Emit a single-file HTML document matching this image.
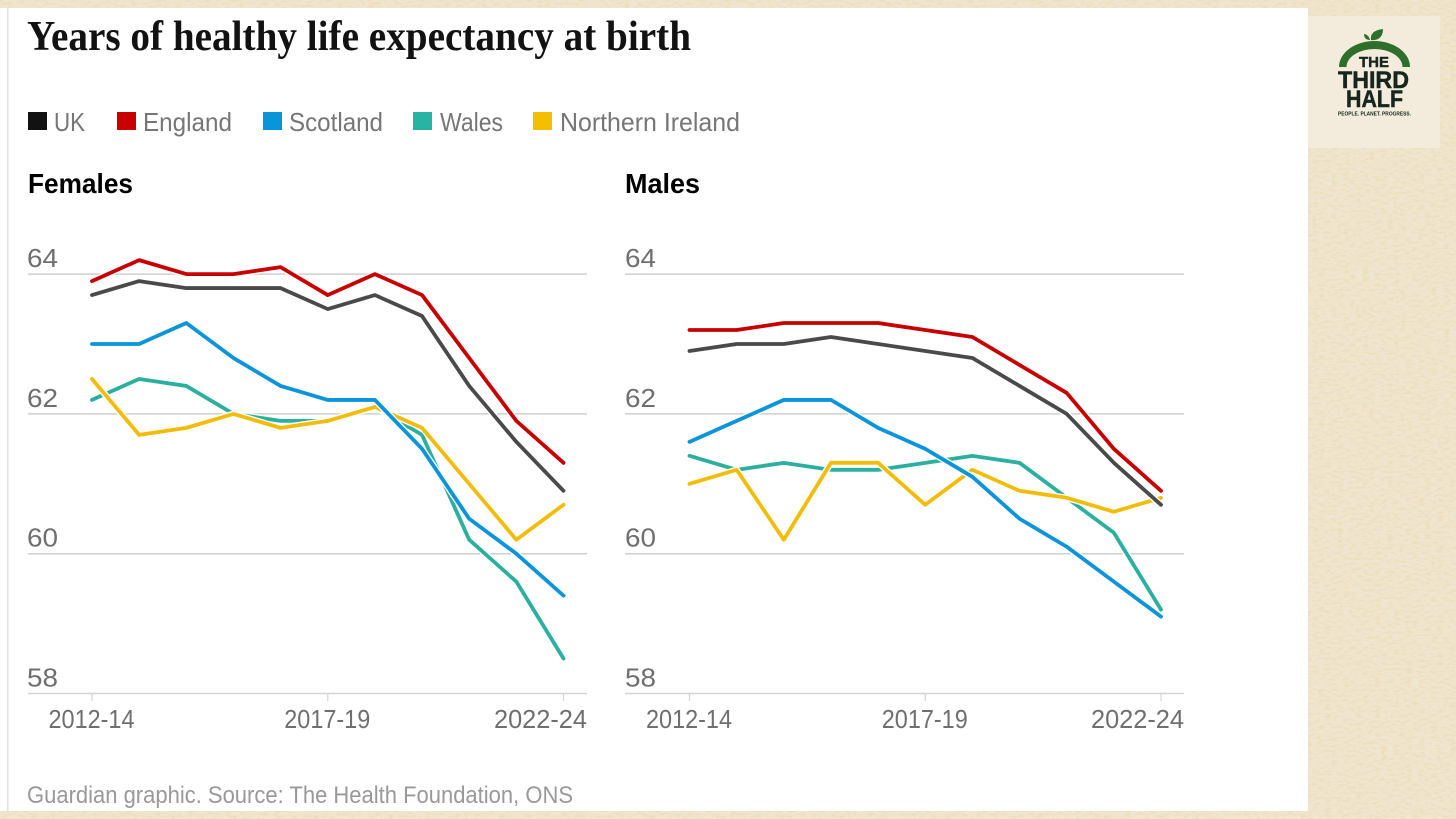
<!DOCTYPE html>
<html lang="en">
<head>
<meta charset="utf-8">
<title>Years of healthy life expectancy at birth</title>
<style>
html,body{margin:0;padding:0;background:#fff;width:1456px;height:819px;overflow:hidden}
svg{display:block}
text{font-family:"Liberation Sans",sans-serif}
.legend-label{font-size:26px;fill:#767676}
.tick-label{font-size:26px;fill:#6f6f6f}
.panel-title{font-size:28px;font-weight:bold;fill:#000}
</style>
</head>
<body>
<svg id="root" xmlns="http://www.w3.org/2000/svg" width="1456" height="819" viewBox="0 0 1456 819">
  <defs>
    <filter id="paper" x="0" y="0" width="100%" height="100%">
      <feTurbulence type="fractalNoise" baseFrequency="0.16 0.38" numOctaves="4" seed="11"/>
      <feColorMatrix type="matrix" values="0 0 0 0 0.84  0 0 0 0 0.72  0 0 0 0 0.5  2.6 0 0 0 -1.05"/>
    </filter>
  </defs>
  <rect width="1456" height="819" fill="#f0e6d0"/>
  <rect width="1456" height="819" filter="url(#paper)"/>

  <rect x="0" y="8" width="1308" height="803" fill="#ffffff"/>
  <rect x="7" y="8" width="1.5" height="803" fill="#e2e2e2"/>

  <text x="27" y="50" textLength="664" lengthAdjust="spacingAndGlyphs" style="font-family:'Liberation Serif',serif;font-size:42px;font-weight:bold;fill:#121212">Years of healthy life expectancy at birth</text>

  <g>
    <rect x="28" y="112" width="19" height="18" fill="#121212"/>
    <text class="legend-label" x="54" y="131" textLength="31" lengthAdjust="spacingAndGlyphs">UK</text>
    <rect x="117" y="112" width="19" height="18" fill="#c70000"/>
    <text class="legend-label" x="143" y="131" textLength="89" lengthAdjust="spacingAndGlyphs">England</text>
    <rect x="263" y="112" width="19" height="18" fill="#0a94da"/>
    <text class="legend-label" x="289" y="131" textLength="94" lengthAdjust="spacingAndGlyphs">Scotland</text>
    <rect x="413" y="112" width="19" height="18" fill="#27b4a4"/>
    <text class="legend-label" x="440" y="131" textLength="63" lengthAdjust="spacingAndGlyphs">Wales</text>
    <rect x="533" y="112" width="19" height="18" fill="#f5be00"/>
    <text class="legend-label" x="560" y="131" textLength="180" lengthAdjust="spacingAndGlyphs">Northern Ireland</text>
  </g>

  <text class="panel-title" x="28" y="193" textLength="105" lengthAdjust="spacingAndGlyphs">Females</text>
  <text class="panel-title" x="625" y="193" textLength="75" lengthAdjust="spacingAndGlyphs">Males</text>

  <g id="females-chart"></g>
  <g id="males-chart"></g>

  <text x="27" y="803" textLength="546" lengthAdjust="spacingAndGlyphs" style="font-size:24px;fill:#999999">Guardian graphic. Source: The Health Foundation, ONS</text>

  <g>
    <rect x="1308" y="16" width="132" height="132" fill="#f3ecdc"/>
    <path d="M1339 67 A35.500 26 0 0 1 1410 67 L1402.500 67 A28 18 0 0 0 1346.500 67 Z" fill="#2f6f2c"/>
    <path d="M1371 40 C1370 33 1375 30 1383 29 C1383 36 1379 41 1371 40 Z" fill="#2f6f2c"/>
    <path d="M1370 40 C1369 36 1367 34.500 1364 34 C1364 38 1366 40 1370 40 Z" fill="#2f6f2c"/>
    <text x="1359" y="67" textLength="30" lengthAdjust="spacingAndGlyphs" style="font-size:14.500px;font-weight:bold;fill:#16261f;stroke:#16261f;stroke-width:0.4">THE</text>
    <text x="1338" y="88" textLength="71" lengthAdjust="spacingAndGlyphs" style="font-size:24px;font-weight:bold;fill:#16261f;stroke:#16261f;stroke-width:0.5">THIRD</text>
    <text x="1346" y="107" textLength="57" lengthAdjust="spacingAndGlyphs" style="font-size:24px;font-weight:bold;fill:#16261f;stroke:#16261f;stroke-width:0.5">HALF</text>
    <text x="1338" y="115.500" textLength="73" lengthAdjust="spacingAndGlyphs" style="font-size:5.500px;font-weight:bold;fill:#16261f">PEOPLE. PLANET. PROGRESS.</text>
  </g>
</svg>

<script>
const categories = ['2012-14','2013-15','2014-16','2015-17','2016-18','2017-19','2018-20','2019-21','2020-22','2021-23','2022-24'];
const xTickLabels = ['2012-14','2017-19','2022-24'];
const yTickValues = [58,60,62,64];

const femalesWales = [62.2,62.5,62.4,62.0,61.9,61.9,62.1,61.7,60.2,59.6,58.5];
const femalesNorthernIreland = [62.5,61.7,61.8,62.0,61.8,61.9,62.1,61.8,61.0,60.2,60.7];
const femalesScotland = [63.0,63.0,63.3,62.8,62.4,62.2,62.2,61.5,60.5,60.0,59.4];
const femalesUK = [63.7,63.9,63.8,63.8,63.8,63.5,63.7,63.4,62.4,61.6,60.9];
const femalesEngland = [63.9,64.2,64.0,64.0,64.1,63.7,64.0,63.7,62.8,61.9,61.3];

const malesWales = [61.4,61.2,61.3,61.2,61.2,61.3,61.4,61.3,60.8,60.3,59.2];
const malesNorthernIreland = [61.0,61.2,60.2,61.3,61.3,60.7,61.2,60.9,60.8,60.6,60.8];
const malesScotland = [61.6,61.9,62.2,62.2,61.8,61.5,61.1,60.5,60.1,59.6,59.1];
const malesUK = [62.9,63.0,63.0,63.1,63.0,62.9,62.8,62.4,62.0,61.3,60.7];
const malesEngland = [63.2,63.2,63.3,63.3,63.3,63.2,63.1,62.7,62.3,61.5,60.9];

const seriesNames = ['wales','northern-ireland','scotland','uk','england'];
const seriesColors = ['#2bb0a0','#f2bd0a','#0a94da','#4a4a4a','#c70000'];

const SVG_NS = 'http://www.w3.org/2000/svg';

function yScale(v) {
  return 693.5 - (v - 58) * 69.9;
}

function makeXScale(left) {
  return function (i) {
    return left + i * 47.15;
  };
}

function drawPanel(groupId, panelName, plotLeft, firstX, yLabelX, seriesList) {
  const group = document.getElementById(groupId);
  const xScale = makeXScale(firstX);
  const plotRight = plotLeft + 559;

  yTickValues.forEach(function (v) {
    const y = yScale(v);
    const line = document.createElementNS(SVG_NS, 'line');
    line.setAttribute('x1', plotLeft);
    line.setAttribute('x2', plotRight);
    line.setAttribute('y1', y);
    line.setAttribute('y2', y);
    line.setAttribute('stroke', v === 58 ? '#d4d4d4' : '#cfcfcf');
    line.setAttribute('stroke-width', '1.500');
    
    
    group.appendChild(line);

    const label = document.createElementNS(SVG_NS, 'text');
    label.setAttribute('x', yLabelX);
    label.setAttribute('y', y - 7);
    label.setAttribute('class', 'tick-label');
    label.setAttribute('textLength', '31');
    label.setAttribute('lengthAdjust', 'spacingAndGlyphs');
    
    
    label.textContent = String(v);
    group.appendChild(label);
  });

  xTickLabels.forEach(function (name, n) {
    const i = categories.indexOf(name);
    const x = xScale(i);
    const tick = document.createElementNS(SVG_NS, 'line');
    tick.setAttribute('x1', x);
    tick.setAttribute('x2', x);
    tick.setAttribute('y1', 693.5);
    tick.setAttribute('y2', 701);
    tick.setAttribute('stroke', '#d4d4d4');
    tick.setAttribute('stroke-width', '1.200');
    
    
    group.appendChild(tick);

    const label = document.createElementNS(SVG_NS, 'text');
    label.setAttribute('y', 728);
    label.setAttribute('class', 'tick-label');
    label.setAttribute('textLength', n === 2 ? '93' : '86');
    label.setAttribute('lengthAdjust', 'spacingAndGlyphs');
    label.setAttribute('x', n === 2 ? plotRight - 93 : x - 43.5);
    
    
    label.textContent = name;
    group.appendChild(label);
  });

  seriesList.forEach(function (values, s) {
    const points = values.map(function (v, i) {
      return xScale(i).toFixed(2) + ',' + yScale(v).toFixed(2);
    }).join(' ');

    const halo = document.createElementNS(SVG_NS, 'polyline');
    halo.setAttribute('points', points);
    halo.setAttribute('fill', 'none');
    halo.setAttribute('stroke', '#ffffff');
    halo.setAttribute('stroke-width', '6.500');
    halo.setAttribute('stroke-linejoin', 'round');
    
    
    group.appendChild(halo);

    const line = document.createElementNS(SVG_NS, 'polyline');
    line.setAttribute('points', points);
    line.setAttribute('fill', 'none');
    line.setAttribute('stroke', seriesColors[s]);
    line.setAttribute('stroke-width', '3.800');
    line.setAttribute('stroke-linejoin', 'round');
    line.setAttribute('stroke-linecap', 'round');
    
    
    group.appendChild(line);
  });
}

drawPanel('females-chart', 'females', 28, 92, 27, [femalesWales, femalesNorthernIreland, femalesScotland, femalesUK, femalesEngland]);
drawPanel('males-chart', 'males', 625, 689.500, 625, [malesWales, malesNorthernIreland, malesScotland, malesUK, malesEngland]);
</script>
</body>
</html>
